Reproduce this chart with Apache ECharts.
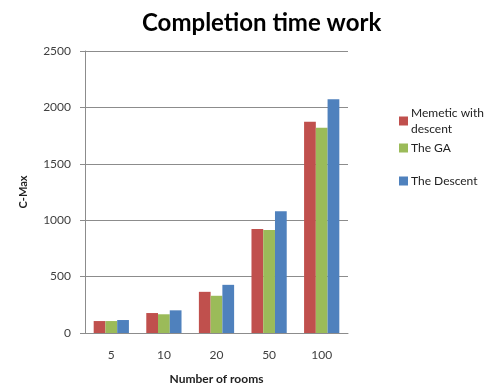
<!DOCTYPE html>
<html>
<head>
<meta charset="utf-8">
<script src="https://cdn.jsdelivr.net/npm/echarts@6/dist/echarts.min.js"></script>
<style>
  html, body { margin: 0; padding: 0; background: #fff; }
  #chart { width: 493px; height: 385px; }
</style>
</head>
<body>
<div id="chart"></div>
<script>
const rooms = ['5', '10', '20', '50', '100'];
const memetic = [106, 177, 365, 922, 1873];
const theGA = [106, 166, 330, 913, 1820];
const descent = [115, 201, 427, 1079, 2072];
const yTicks = [0, 500, 1000, 1500, 2000, 2500];

const FONT = 'Lato, "Open Sans", sans-serif';
const labelColor = '#404040';

const chart = echarts.init(document.getElementById('chart'));

const legendBase = {
  orient: 'vertical',
  left: 394,
  itemWidth: 9,
  itemHeight: 9,
  icon: 'rect',
  textStyle: { fontFamily: FONT, fontSize: 12, color: '#222', lineHeight: 16, padding: [0, 0, 0, -2] }
};

chart.setOption({
  animation: false,
  title: {
    text: 'Completion time work',
    left: 137,
    top: 6,
    textStyle: { fontFamily: FONT, fontSize: 24, fontWeight: 'bold', color: '#000' }
  },
  legend: [
    Object.assign({}, legendBase, {
      top: 100,
      data: ['Memetic with descent'],
      formatter: () => 'Memetic with\ndescent'
    }),
    Object.assign({}, legendBase, { top: 135, data: ['The GA'] }),
    Object.assign({}, legendBase, { top: 168, data: ['The Descent'] })
  ],
  grid: { left: 85, right: 145, top: 51, bottom: 52, outerBoundsMode: 'none', containLabel: false },
  xAxis: {
    type: 'category',
    data: rooms,
    name: 'Number of rooms',
    nameLocation: 'middle',
    nameGap: 40,
    nameTextStyle: { fontFamily: FONT, fontSize: 12, fontWeight: 'bold', color: '#222' },
    axisLine: { lineStyle: { color: '#8c8c8c', width: 1 } },
    axisTick: { show: false },
    axisLabel: { fontFamily: FONT, fontSize: 12, color: labelColor, margin: 16 }
  },
  yAxis: {
    type: 'value',
    min: yTicks[0],
    max: yTicks[yTicks.length - 1],
    interval: 500,
    name: 'C-Max',
    nameLocation: 'middle',
    nameGap: 56,
    nameTextStyle: { fontFamily: FONT, fontSize: 11, fontWeight: 'bold', color: '#222' },
    axisLine: { show: true, lineStyle: { color: '#8c8c8c', width: 1 } },
    axisTick: { show: true, length: 5, lineStyle: { color: '#8c8c8c' } },
    axisLabel: { fontFamily: FONT, fontSize: 12, color: labelColor, margin: 14, formatter: v => String(v) },
    splitLine: { lineStyle: { color: '#8c8c8c', width: 1 } }
  },
  series: [
    { name: 'Memetic with descent', type: 'bar', data: memetic, barGap: '0%', barCategoryGap: '33%', itemStyle: { color: '#C0504D' } },
    { name: 'The GA', type: 'bar', data: theGA, itemStyle: { color: '#9BBB59' } },
    { name: 'The Descent', type: 'bar', data: descent, itemStyle: { color: '#4F81BD' } }
  ]
});
</script>
</body>
</html>
